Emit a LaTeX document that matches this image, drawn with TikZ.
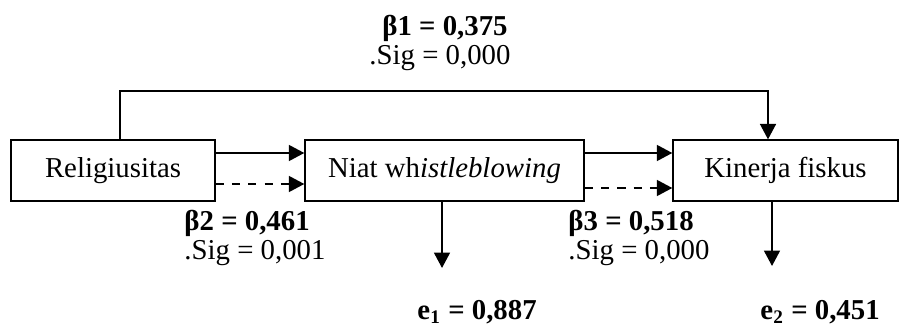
\documentclass[tikz,border=0pt]{standalone}
\usepackage{fontspec}
\setmainfont{Liberation Serif}
\usetikzlibrary{arrows.meta,calc}
\definecolor{PathLine}{HTML}{000000}
\tikzset{
  varbox/.style={draw=PathLine,line width=0.55pt,minimum height=25.4pt,inner sep=0pt,font=\fontsize{12}{14}\selectfont},
  path arrow/.style={PathLine,line width=0.8pt,-{Triangle[length=6.4pt,width=6.6pt]}},
  coef/.style={inner sep=0pt,font=\fontsize{12}{14}\selectfont}
}
\begin{document}
\begin{tikzpicture}[x=0.4167pt,y=-0.4167pt]
  \useasboundingbox (0,0) rectangle (900,327);
  \node[varbox,minimum width=85pt] (relig) at (113,170.5) {Religiusitas};
  \node[varbox,minimum width=116.3pt] (niat) at (444.5,170.5) {Niat wh\textit{istleblowing}};
  \node[varbox,minimum width=93.8pt] (kinerja) at (785.5,170.5) {Kinerja fiskus};
  \coordinate (e1end) at (442,268);
  \coordinate (e2end) at (772,266);
  \draw[path arrow] ($(relig.north)+(7,0)$) -- ++(0,-48) -| ($(kinerja.north)+(-17.5,0)$);
  \draw[path arrow] (relig.east |- 0,153) -- (niat.west |- 0,153);
  \draw[path arrow,dash pattern=on 3.4pt off 3.4pt] (relig.east |- 0,184) -- (niat.west |- 0,184);
  \draw[path arrow] (niat.east |- 0,153) -- (kinerja.west |- 0,153);
  \draw[path arrow,dash pattern=on 3.4pt off 3.4pt] (niat.east |- 0,188) -- (kinerja.west |- 0,188);
  \draw[path arrow] (niat.south -| e1end) -- (e1end);
  \draw[path arrow] (kinerja.south -| e2end) -- (e2end);
  \node[coef] (b1) at (445,28) {\textbf{β1 = 0,375}};
  \node[coef] (sig1) at (440,58) {.Sig = 0,000};
  \node[coef,anchor=west] (b2) at (184,223) {\textbf{β2 = 0,461}};
  \node[coef,anchor=west] (sig2) at (184,253) {.Sig = 0,001};
  \node[coef,anchor=west] (b3) at (568,223) {\textbf{β3 = 0,518}};
  \node[coef,anchor=west] (sig3) at (568,253) {.Sig = 0,000};
  \node[coef,anchor=west] (e1) at (417,312) {\textbf{e\textsubscript{1} = 0,887}};
  \node[coef,anchor=west] (e2) at (760,312) {\textbf{e\textsubscript{2} = 0,451}};
\end{tikzpicture}
\end{document}
